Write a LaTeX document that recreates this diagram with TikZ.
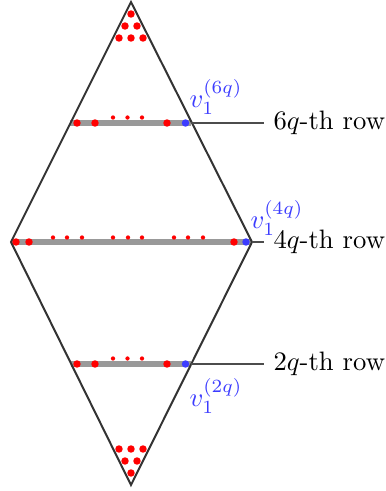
\documentclass[tikz,border=0pt]{standalone}
\usepackage{amsmath}
\usetikzlibrary{positioning}
\definecolor{vblue}{RGB}{60,60,255}
\definecolor{edgegray}{RGB}{51,51,51}

\begin{document}
\begin{tikzpicture}[
            x=0.375pt, y=-0.375pt,
            bigdot/.style={circle, fill=red, inner sep=0pt, minimum size=2.8pt},
            smalldot/.style={circle, fill=red, inner sep=0pt, minimum size=1.6pt},
            enddot/.style={circle, fill=vblue, inner sep=0pt, minimum size=2.8pt},
            rowbar/.style={line width=1.9pt, gray!80},
            side/.style={edgegray, line width=0.75pt},
            pointer/.style={black!70, line width=0.4pt},
            rowlabel/.style={anchor=west, inner sep=0pt},
            vlabel/.style={text=vblue, inner sep=0pt}
        ]
        \useasboundingbox (0,0) rectangle (385,491);

        % Corners of the diamond
        \coordinate (top) at (131,2);
        \coordinate (rgt) at (252,242);
        \coordinate (bot) at (131,485);
        \coordinate (lft) at (11,242);

        % Rows (drawn first, the sides go over them)
        \draw[rowbar] (70.5,123) -- (191.5,123);
        \draw[rowbar] (11,242) -- (252,242);
        \draw[rowbar] (71,364) -- (191,364);

        \draw[side] (top) -- (rgt) -- (bot) -- (lft) -- cycle;

        % Dots at the tips
        \foreach \x/\y in {131/14, 125/26, 137/26, 119/38, 131/38, 143/38,
                           119/449, 131/449, 143/449, 125/461, 137/461, 131/473}
            \node[bigdot] at (\x,\y) {};

        % 6q-th and 2q-th rows
        \foreach \y in {123, 364} {
            \foreach \x in {77, 95, 167}
                \node[bigdot] at (\x,\y) {};
            \foreach \x in {113, 127.5, 142}
                \node[smalldot] at (\x,\y-5.5) {};
        }
        \node[enddot] (six) at (185.5,123) {};
        \node[enddot] (two) at (185.5,364) {};

        % 4q-th row
        \foreach \x in {16, 29, 234}
            \node[bigdot] at (\x,242) {};
        \foreach \x in {53, 67, 82, 113, 128, 142, 174, 188, 203}
            \node[smalldot] at (\x,237.5) {};
        \node[enddot] (four) at (246,242) {};

        % Labels
        \node[vlabel] (vsix) at (216,97) {$v_1^{(6q)}$};
        \node[vlabel] (vfour) at (277,218) {$v_1^{(4q)}$};
        \node[vlabel] (vtwo) at (216,396) {$v_1^{(2q)}$};

        \node[rowlabel] (rsix) at (273,123) {$6q$-th row};
        \node[rowlabel] (rfour) at (273,242) {$4q$-th row};
        \node[rowlabel] (rtwo) at (273,364) {$2q$-th row};

        \draw[pointer] (six) ++(6,0) -- ([xshift=-3.5pt]rsix.west);
        \draw[pointer] (rgt) -- ([xshift=-3.5pt]rfour.west);
        \draw[pointer] (two) ++(6,0) -- ([xshift=-3.5pt]rtwo.west);
\end{tikzpicture}
\end{document}
